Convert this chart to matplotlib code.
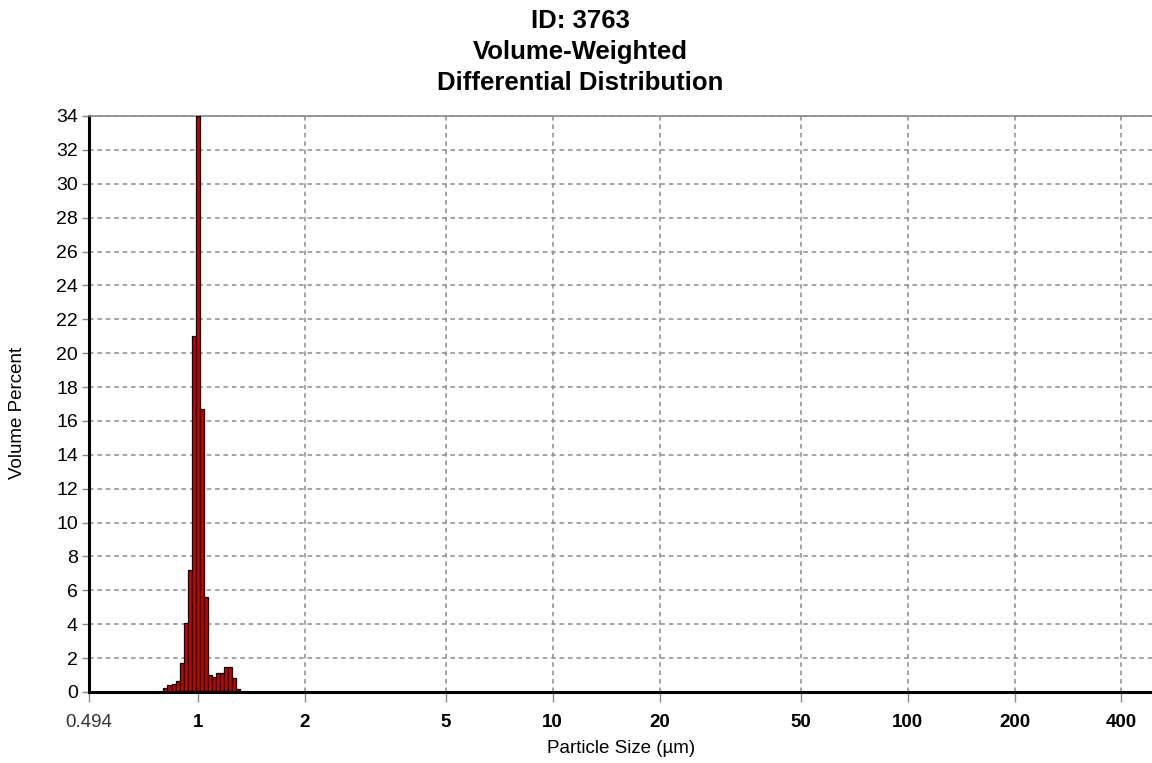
import numpy as np
import matplotlib.pyplot as plt
from matplotlib.ticker import FixedLocator, NullFormatter

plt.rcParams['font.family'] = ['Liberation Sans', 'DejaVu Sans']

# particle size bins (um) and volume percent
sizes = [0.811, 0.833, 0.855, 0.878, 0.901, 0.925, 0.949, 0.974, 1.000, 1.026,
         1.054, 1.081, 1.110, 1.140, 1.170, 1.201, 1.233, 1.265, 1.299]
volume = [0.24, 0.40, 0.45, 0.65, 1.73, 4.1, 7.2, 21.0, 34.0, 16.7,
          5.6, 1.0, 0.87, 1.1, 1.1, 1.5, 1.5, 0.8, 0.2]

xticks = [0.494, 1, 2, 5, 10, 20, 50, 100, 200, 400]
xticklabels = ['0.494', '1', '2', '5', '10', '20', '50', '100', '200', '400']
yticks = list(range(0, 35, 2))

# bin edges halfway (in log) between bin centres
logs = np.log10(sizes)
step = np.mean(np.diff(logs))
edges = 10 ** np.concatenate([[logs[0] - step / 2], (logs[:-1] + logs[1:]) / 2, [logs[-1] + step / 2]])

fig = plt.figure(figsize=(11.52, 7.63), dpi=100)
ax = fig.add_axes([89 / 1152, 71 / 763, 1065 / 1152, 576 / 763])

ax.bar(edges[:-1], volume, width=np.diff(edges), align='edge',
       color='#cc0000', edgecolor='black', linewidth=0.9, zorder=3)

ax.set_xscale('log')
ax.set_xlim(0.494, 494)
ax.set_ylim(0, 34)

ax.xaxis.set_major_locator(FixedLocator(xticks))
ax.xaxis.set_minor_locator(FixedLocator([]))
ax.xaxis.set_minor_formatter(NullFormatter())
ax.set_xticklabels(xticklabels)
for lab in ax.get_xticklabels():
    if lab.get_text() != '0.494':
        lab.set_fontweight('bold')
        lab.set_fontsize(13.5)
    else:
        lab.set_fontsize(13.5)
        lab.set_color('#333333')
ax.set_yticks(yticks)
ax.yaxis.set_minor_locator(FixedLocator(np.arange(0, 34.01, 0.5)))
ax.tick_params(axis='y', which='major', labelsize=14, length=5, width=1,
               color='#888888', pad=3)
ax.tick_params(axis='y', which='minor', length=2, width=0.8, color='#aaaaaa', direction='inout')
ax.tick_params(axis='x', which='major', length=7, width=1, color='#888888', pad=9)

ax.grid(True, which='major', color='#8c8c8c', linestyle=(0, (3, 2.5)), linewidth=1.1, zorder=0)
ax.set_axisbelow(True)

ax.spines['left'].set_linewidth(2.2)
ax.spines['left'].set_color('black')
ax.spines['bottom'].set_linewidth(2.2)
ax.spines['bottom'].set_color('black')
ax.spines['bottom'].set_zorder(4)
ax.spines['top'].set_color('#888888')
ax.spines['top'].set_linewidth(1.2)
ax.spines['right'].set_visible(False)

ax.set_xlabel('Particle Size (µm)', fontsize=13.5, labelpad=6)
fig.text(18 / 1152, 1 - 413 / 763, 'Volume Percent', rotation=90, fontsize=13.5,
         ha='center', va='center')

fig.text(580 / 1152, 1 - 52 / 763, 'ID: 3763\nVolume-Weighted\nDifferential Distribution',
         ha='center', va='center', fontsize=18.5, fontweight='bold', linespacing=1.35)

fig.savefig('out.png', dpi=100)
